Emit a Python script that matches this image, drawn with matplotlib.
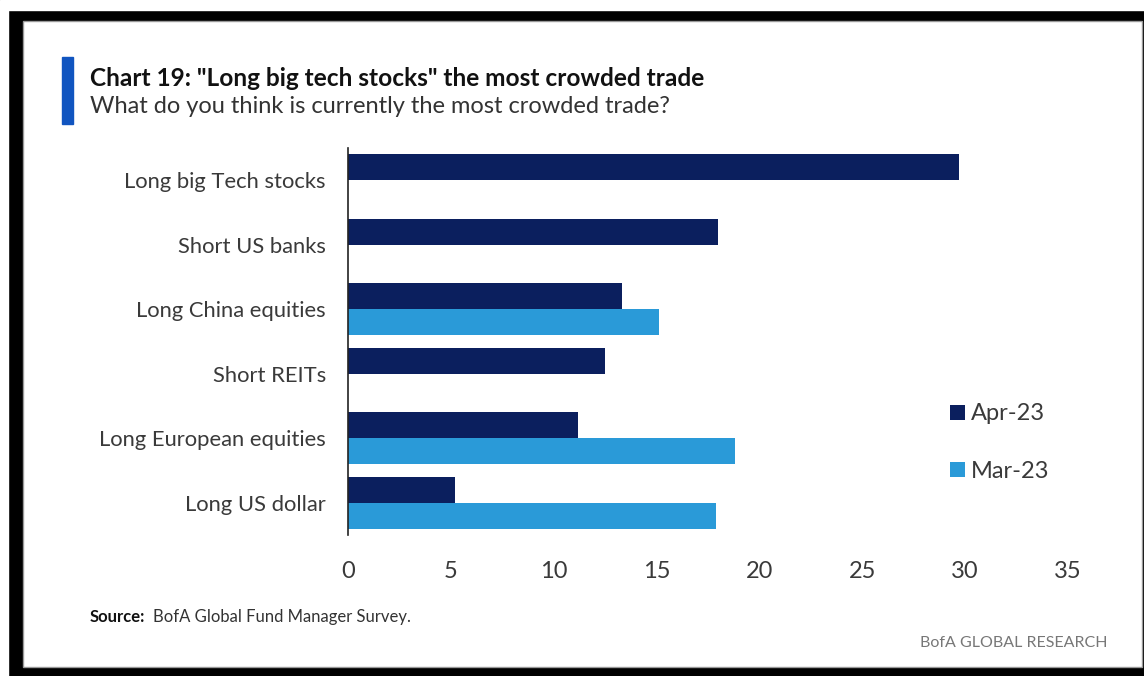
import numpy as np
import matplotlib.pyplot as plt
from matplotlib.patches import Rectangle

plt.rcParams['font.family'] = ['Lato', 'DejaVu Sans']

categories = ['Long big Tech stocks', 'Short US banks', 'Long China equities',
              'Short REITs', 'Long European equities', 'Long US dollar']
apr_23 = [29.7, 18.0, 13.3, 12.5, 11.2, 5.2]
mar_23 = [np.nan, np.nan, 15.1, np.nan, 18.8, 17.9]
xticks = [0, 5, 10, 15, 20, 25, 30, 35]

navy = '#0b1f5e'
light = '#2a9ad8'
grey_txt = '#3a3a3a'

fig = plt.figure(figsize=(11.44, 6.76), dpi=100)
W, H = 1144, 676

# screenshot frame
fig.patches.append(Rectangle((0, 0), 1, 1, transform=fig.transFigure, color='black', zorder=-10))
fig.patches.append(Rectangle((0, 1 - 10 / H), 1, 10 / H, transform=fig.transFigure, color='white', zorder=-9))
fig.patches.append(Rectangle((0, 0), 8 / W, 1 - 10 / H, transform=fig.transFigure, color='white', zorder=-9))
fig.patches.append(Rectangle((23 / W, 9 / H), (1142 - 23) / W, (655 - 9) / H, transform=fig.transFigure,
                             facecolor='white', edgecolor='#999999', lw=1, zorder=-8))

ax = fig.add_axes([348 / W, 141 / H, (1068 - 348) / W, (528 - 141) / H])
y = np.arange(len(categories))
h = 0.4
ax.barh(y - h / 2, apr_23, height=h, color=navy, label='Apr-23')
ax.barh(y + h / 2, mar_23, height=h, color=light, label='Mar-23')
ax.set_ylim(len(categories) - 0.5, -0.5)
ax.set_xlim(0, 35)
ax.set_yticks(y)
ax.set_yticklabels(categories, fontsize=15.8, color=grey_txt)
ax.set_xticks(xticks)
ax.set_xticklabels([str(t) for t in xticks], fontsize=17, color=grey_txt)
ax.tick_params(axis='y', length=0, pad=16)
ax.tick_params(axis='x', length=0, pad=19)
for s in ['top', 'right', 'bottom']:
    ax.spines[s].set_visible(False)
ax.spines['left'].set_color('#222222')
ax.spines['left'].set_linewidth(1.2)

leg = ax.legend(loc='upper left', bbox_to_anchor=(941 / W, 1 - 394 / H), bbox_transform=fig.transFigure,
                frameon=False, fontsize=17, handlelength=0.6, handleheight=0.6, handletextpad=0.25,
                labelspacing=1.55, labelcolor=grey_txt, borderaxespad=0)

# title block
fig.patches.append(Rectangle((62 / W, 1 - 124 / H), 11 / W, 67 / H, transform=fig.transFigure,
                             color='#1155c0'))
fig.text(90 / W, 1 - 86 / H, 'Chart 19: "Long big tech stocks" the most crowded trade',
         fontsize=17.6, fontweight='bold', color='#111111')
fig.text(90 / W, 1 - 113 / H, 'What do you think is currently the most crowded trade?',
         fontsize=17, color='#333333')

fig.text(90 / W, 1 - 622 / H, 'Source:', fontsize=12, fontweight='bold', color='#111111')
fig.text(153 / W, 1 - 622 / H, 'BofA Global Fund Manager Survey.', fontsize=12, color='#333333')
fig.text(1107 / W, 1 - 647 / H, 'BofA GLOBAL RESEARCH', fontsize=11.5, color='#777777', ha='right')

fig.savefig('out.png', dpi=100)
